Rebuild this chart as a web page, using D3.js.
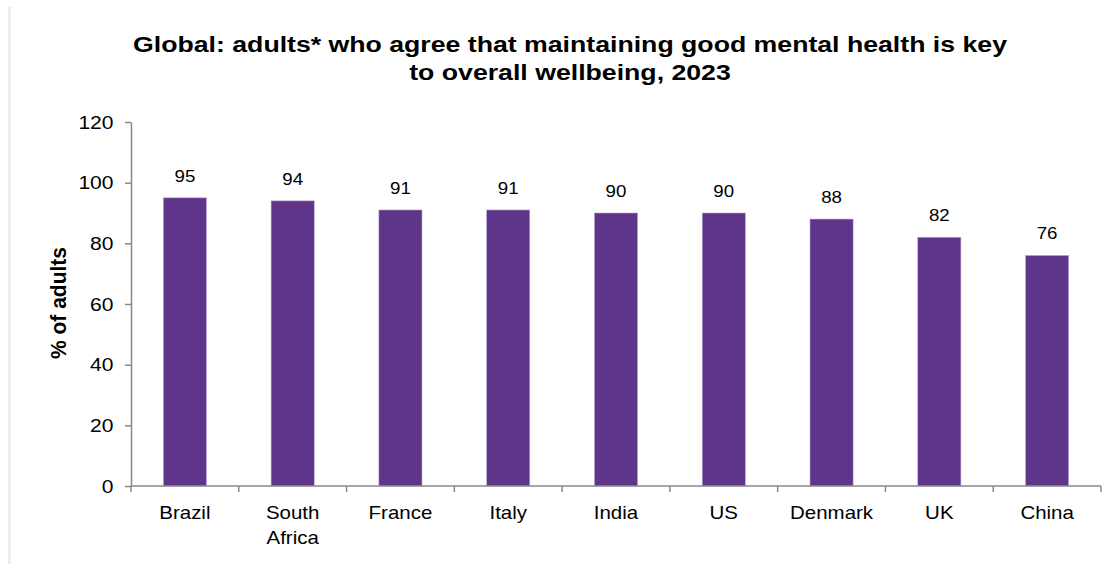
<!DOCTYPE html>
<html>
<head>
<meta charset="utf-8">
<script src="https://cdn.jsdelivr.net/npm/d3@7"></script>
<style>
  body { margin: 0; background: #fff; }
  svg { display: block; font-family: "Liberation Sans", Arial, sans-serif; }
</style>
</head>
<body>
<script>
var countries = ["Brazil", "South Africa", "France", "Italy", "India", "US", "Denmark", "UK", "China"];
var agreePct = [95, 94, 91, 91, 90, 90, 88, 82, 76];
var yTicks = [0, 20, 40, 60, 80, 100, 120];
var titleLines = ["Global: adults* who agree that maintaining good mental health is key", "to overall wellbeing, 2023"];

var width = 1111, height = 564;
var sx = 1.17; // the source picture is a little wider than tall, text looks stretched

var svg = d3.select("body").append("svg")
    .attr("width", width)
    .attr("height", height);

// light frame line on the left
svg.append("rect")
    .attr("x", 8).attr("y", 7)
    .attr("width", 3).attr("height", height - 7)
    .attr("fill", "#eeeeee");

var x = d3.scaleBand()
    .domain(countries)
    .range([131, 1101])
    .paddingInner(0.6)
    .paddingOuter(0.3);

var y = d3.scaleLinear()
    .domain([0, 120])
    .range([486, 122]);

function place(px, py) {
    return "translate(" + px + "," + py + ") scale(" + sx + ",1)";
}

// title
svg.selectAll(".title")
    .data(titleLines)
    .enter()
    .append("text")
    .attr("class", "title")
    .attr("transform", (d, i) => place(570, 52 + i * 28))
    .attr("text-anchor", "middle")
    .attr("font-size", "22.8px")
    .attr("font-weight", "bold")
    .attr("fill", "#000")
    .text(d => d);

// bars
svg.selectAll(".bar")
    .data(countries)
    .enter()
    .append("rect")
    .attr("class", "bar")
    .attr("x", d => x(d))
    .attr("y", (d, i) => y(agreePct[i]))
    .attr("width", x.bandwidth())
    .attr("height", (d, i) => y(0) - y(agreePct[i]))
    .attr("fill", "#5e3589")
    .attr("stroke", "#b9a6d3")
    .attr("stroke-width", 0.6);

// value labels
svg.selectAll(".val")
    .data(countries)
    .enter()
    .append("text")
    .attr("class", "val")
    .attr("transform", (d, i) => place(x(d) + x.bandwidth() / 2, y(agreePct[i]) - 16))
    .attr("text-anchor", "middle")
    .attr("font-size", "16px")
    .attr("fill", "#000")
    .text((d, i) => agreePct[i]);

// y axis
var yAxis = svg.append("g")
    .attr("transform", "translate(131,0)")
    .call(d3.axisLeft(y).tickValues(yTicks).tickSize(6).tickSizeOuter(0));
yAxis.select(".domain").attr("stroke", "#888").attr("stroke-width", 1.5);
yAxis.selectAll(".tick line").attr("stroke", "#888").attr("stroke-width", 1.5);
yAxis.selectAll(".tick text")
    .attr("font-size", "18px")
    .attr("fill", "#000")
    .attr("font-family", "Liberation Sans, Arial, sans-serif")
    .attr("x", 0)
    .attr("dy", "0.34em")
    .attr("transform", "translate(-17.5,0) scale(" + sx + ",1)");

// x axis: ticks between categories
var xAxisG = svg.append("g").attr("transform", "translate(0," + y(0) + ")");
var step = x.step();
var x0 = x.range()[0];
xAxisG.append("line")
    .attr("x1", x0).attr("x2", x.range()[1])
    .attr("stroke", "#888").attr("stroke-width", 1.5);
xAxisG.selectAll(".xt")
    .data(d3.range(countries.length + 1))
    .enter()
    .append("line")
    .attr("x1", i => x0 + i * step).attr("x2", i => x0 + i * step)
    .attr("y1", 0).attr("y2", 6)
    .attr("stroke", "#888").attr("stroke-width", 1.5);

// x labels (wrap two-word names)
countries.forEach(function(d) {
    var words = d === "South Africa" ? ["South", "Africa"] : [d];
    var cx = x(d) + x.bandwidth() / 2;
    words.forEach(function(w, i) {
        svg.append("text")
            .attr("transform", place(cx, 519 + i * 25))
            .attr("text-anchor", "middle")
            .attr("font-size", "17.5px")
            .attr("fill", "#000")
            .text(w);
    });
});

// y label
svg.append("text")
    .attr("transform", "translate(66,303) rotate(-90) scale(1,1.08)")
    .attr("text-anchor", "middle")
    .attr("font-size", "21px")
    .attr("font-weight", "bold")
    .attr("fill", "#000")
    .text("% of adults");
</script>
</body>
</html>
